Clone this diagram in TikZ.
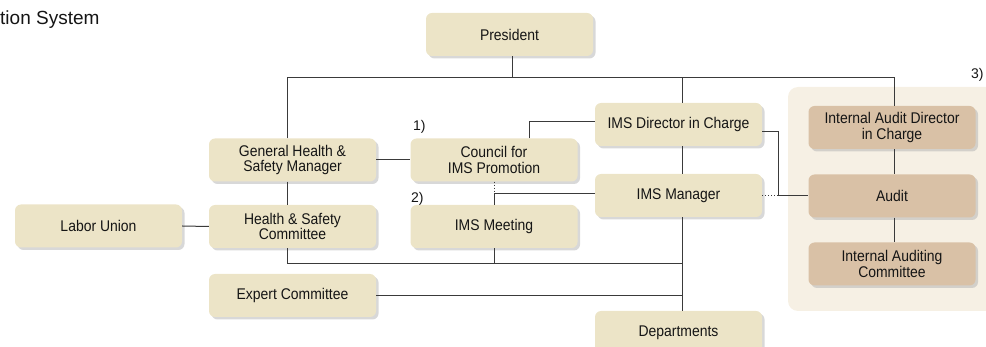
\documentclass[tikz,border=0pt]{standalone}
\usepackage{fontspec}
\setmainfont{Liberation Sans}[FakeStretch=0.9]
\newfontfamily\plainsans{Liberation Sans}
\usetikzlibrary{shadows,calc}
\definecolor{creamfill}{HTML}{ECE4C7}
\definecolor{tanfill}{HTML}{D9C1A6}
\definecolor{panelfill}{HTML}{F6F0E4}
\definecolor{linecol}{HTML}{3A3A3A}
\definecolor{txtcol}{HTML}{151515}
\tikzset{
  orgbox/.style={rounded corners=6pt, fill=creamfill, minimum width=167pt, minimum height=43pt,
    align=center, inner sep=2pt, text=txtcol, font=\fontsize{15.5}{15.7}\selectfont,
    drop shadow={shadow xshift=2.5pt, shadow yshift=-2.5pt, fill=black!30, opacity=0.5}},
  auditbox/.style={orgbox, fill=tanfill},
  conn/.style={draw=linecol, line width=1pt},
  dotconn/.style={draw=linecol, line width=1pt, dotted},
  numlabel/.style={font=\plainsans\fontsize{14}{14}\selectfont, text=txtcol, inner sep=0pt, anchor=base west}
}
\begin{document}
\begin{tikzpicture}[x=1pt, y=-1pt]
\useasboundingbox (0,0) rectangle (986,347);
\begin{scope}
\clip (0,0) rectangle (986,347);
% panel
\fill[panelfill, rounded corners=10pt] (788,87) rectangle (1010,311);
% title
\node[font=\plainsans\fontsize{19}{19}\selectfont, text=txtcol, anchor=base west, inner sep=0pt] (title) at (0,25) {tion System};
% nodes
\node[orgbox] (pres) at (509.5,34.5) {President};
\node[orgbox] (ghsm) at (292.5,160) {General Health \&\\Safety Manager};
\node[orgbox] (hsc) at (292.5,226.5) {Health \& Safety\\Committee};
\node[orgbox] (cip) at (494,160) {Council for\\IMS Promotion};
\node[orgbox] (imsm) at (494,226.5) {IMS Meeting};
\node[orgbox] (labor) at (98.5,226) {Labor Union};
\node[orgbox] (expert) at (292.5,295.5) {Expert Committee};
\node[orgbox] (imsdir) at (678.5,124.5) {IMS Director in Charge};
\node[orgbox] (imsman) at (678.5,195.5) {IMS Manager};
\node[orgbox] (dept) at (678.5,332.5) {Departments};
\node[auditbox] (iad) at (892,127.5) {Internal Audit Director\\in Charge};
\node[auditbox] (audit) at (892,196) {Audit};
\node[auditbox] (iac) at (892,264) {Internal Auditing\\Committee};
% labels
\node[numlabel] (l1) at (413,131) {1)};
\node[numlabel] (l2) at (411,203) {2)};
\node[numlabel] (l3) at (971,79) {3)};
% coordinates
\coordinate (bus) at (0,78);
\coordinate (lowbus) at (0,264);
\coordinate (j1) at (494,193.5);
\coordinate (j2) at (778,196);
\coordinate (gx) at ($(ghsm.north)+(-5.5,0)$);
\coordinate (mx) at ($(imsdir.north)+(3.5,0)$);
\coordinate (ix) at ($(iad.north)+(2,0)$);
% connectors
\draw[conn] (gx) |- (bus -| ix) -- (ix);
\draw[conn] ($(pres.south)+(3,0)$) -- ($(pres.south |- bus)+(3,0)$);
\draw[conn] (mx) -- (mx |- bus);
\draw[conn] (gx |- ghsm.south) -- (gx |- hsc.north);
\draw[conn] (ghsm.east) -- (cip.west);
\draw[conn] (labor.east) -- (hsc.west);
\draw[conn] ($(cip.north)+(35,0)$) |- ($(imsdir.west)+(0,-2.5)$);
\draw[dotconn] (cip.south) -- (j1);
\draw[conn] (j1) -- (imsm.north);
\draw[conn] (j1) -- (j1 -| imsman.west);
\draw[conn] (mx |- imsdir.south) -- (mx |- imsman.north);
\draw[conn] (mx |- imsman.south) -- (mx |- dept.north);
\draw[conn] (gx |- hsc.south) |- (lowbus -| mx);
\draw[conn] (imsm.south) -- (imsm.south |- lowbus);
\draw[conn] (expert.east) -- (expert.east -| mx);
\draw[conn] (ix |- iad.south) -- (ix |- audit.north);
\draw[conn] (ix |- audit.south) -- (ix |- iac.north);
\draw[conn] ($(imsdir.east)+(0,7.5)$) -| (j2) -- (audit.west);
\draw[dotconn] (imsman.east |- j2) -- (j2);
\end{scope}
\end{tikzpicture}
\end{document}
